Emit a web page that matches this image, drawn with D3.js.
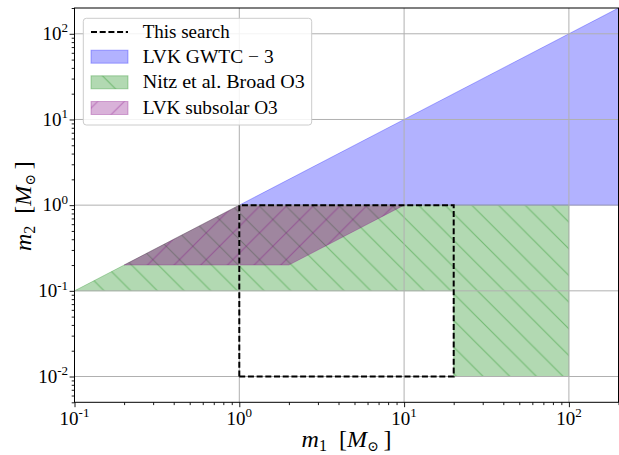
<!DOCTYPE html>
<html><head><meta charset="utf-8">
<script src="https://cdn.jsdelivr.net/npm/d3@7"></script>
<style>
body{margin:0;background:#fff}
svg{display:block}
text{font-family:"Liberation Serif","DejaVu Serif",serif;fill:#000}
</style>
</head><body>
<svg id="c" width="619" height="455"></svg>
<script>
// ---- data ----
const xDomain = [0.1, 200];
const yDomain = [0.005, 200];
const xTickValues = [0.1, 1, 10, 100];
const xTickExps = ["-1", "0", "1", "2"];
const yTickValues = [0.01, 0.1, 1, 10, 100];
const yTickExps = ["-2", "-1", "0", "1", "2"];
// polygons as [m1, m2]
const gwtc3 = [[1, 1], [200, 200], [200, 1]];
const nitzBroad = [[0.1, 0.1], [1, 1], [100, 1], [100, 0.01], [20, 0.01], [20, 0.1]];
const subsolar = [[0.2, 0.2], [1, 1], [10, 1], [2, 0.2]];
const thisSearch = [[1, 0.01], [1, 1], [20, 1], [20, 0.01], [1, 0.01]];
const legendLabels = ["This search", "LVK GWTC \u2212 3", "Nitz et al. Broad O3", "LVK subsolar O3"];

// ---- layout ----
const L = 74.5, R = 618.5, T = 8, B = 402.3;
const svg = d3.select("#c");
const x = d3.scaleLog().domain(xDomain).range([L, R]);
const y = d3.scaleLog().domain(yDomain).range([B, T]);

const defs = svg.append("defs");
defs.append("clipPath").attr("id", "clip").append("rect")
  .attr("x", L).attr("y", T).attr("width", R - L).attr("height", B - T);

const S = 26.67;
function hatch(id, dir, color, op, offset) {
  const p = defs.append("pattern").attr("id", id).attr("patternUnits", "userSpaceOnUse")
    .attr("width", S).attr("height", S).attr("x", offset).attr("y", 0);
  const d = dir === "back"
    ? `M-2,${S - 2} l4,4 M0,0 L${S},${S} M${S - 2},-2 l4,4`
    : `M-2,2 l4,-4 M0,${S} L${S},0 M${S - 2},${S + 2} l4,-4`;
  p.append("path").attr("d", d).attr("stroke", color).attr("stroke-opacity", op)
    .attr("stroke-width", 1.1).attr("fill", "none");
}
hatch("hGreen", "back", "#008000", 0.35, 0);
hatch("hPurple", "fwd", "#800080", 0.35, 12.4);

const line = d3.line().x(d => x(d[0])).y(d => y(d[1]));
const poly = pts => line(pts) + "Z";

const plot = svg.append("g").attr("clip-path", "url(#clip)");

// blue
plot.append("path").attr("d", poly(gwtc3)).attr("fill", "#0000ff").attr("fill-opacity", 0.3)
  .attr("stroke", "#0000ff").attr("stroke-opacity", 0.3).attr("stroke-width", 1);
// green
plot.append("path").attr("d", poly(nitzBroad)).attr("fill", "#008000").attr("fill-opacity", 0.3)
  .attr("stroke", "#008000").attr("stroke-opacity", 0.25).attr("stroke-width", 1);
plot.append("path").attr("d", poly(nitzBroad)).attr("fill", "url(#hGreen)");
// purple
plot.append("path").attr("d", poly(subsolar)).attr("fill", "#800080").attr("fill-opacity", 0.38)
  .attr("stroke", "#800080").attr("stroke-opacity", 0.25).attr("stroke-width", 1);
plot.append("path").attr("d", poly(subsolar)).attr("fill", "url(#hPurple)");

// grid
const grid = svg.append("g");
grid.selectAll("line.gx").data(xTickValues).join("line")
  .attr("x1", d => x(d)).attr("x2", d => x(d)).attr("y1", T).attr("y2", B)
  .attr("stroke", "#b0b0b0").attr("stroke-width", 1);
grid.selectAll("line.gy").data(yTickValues).join("line")
  .attr("y1", d => y(d)).attr("y2", d => y(d)).attr("x1", L).attr("x2", R)
  .attr("stroke", "#b0b0b0").attr("stroke-width", 1);

// this search (above grid)
svg.append("g").attr("clip-path", "url(#clip)").append("path")
  .attr("d", line(thisSearch)).attr("fill", "none")
  .attr("stroke", "#000000").attr("stroke-opacity", 1).attr("stroke-width", 2)
  .attr("stroke-dasharray", "6,2.7");

// axes
const minorX = x.ticks().filter(v => xTickValues.indexOf(v) < 0);
const minorY = y.ticks().filter(v => yTickValues.indexOf(v) < 0);
function styleAxis(g) {
  g.select(".domain").remove();
  g.selectAll(".tick line").attr("stroke", "#000").attr("stroke-width", 0.9);
  g.selectAll(".tick text").remove();
}
svg.append("g").attr("transform", `translate(0,${B})`)
  .call(d3.axisBottom(x).tickValues(minorX).tickSize(2.8)).call(styleAxis);
svg.append("g").attr("transform", `translate(0,${B})`)
  .call(d3.axisBottom(x).tickValues(xTickValues).tickSize(4.9)).call(styleAxis);
svg.append("g").attr("transform", `translate(${L},0)`)
  .call(d3.axisLeft(y).tickValues(minorY).tickSize(2.8)).call(styleAxis);
svg.append("g").attr("transform", `translate(${L},0)`)
  .call(d3.axisLeft(y).tickValues(yTickValues).tickSize(4.9)).call(styleAxis);

// frame
svg.append("rect").attr("x", L).attr("y", T).attr("width", R - L).attr("height", B - T)
  .attr("fill", "none").attr("stroke", "#000").attr("stroke-width", 1);

// tick labels
const FS = 19, SS = 13;
xTickValues.forEach((v, i) => {
  const t = svg.append("text").attr("x", x(v)).attr("y", 424.5).attr("text-anchor", "middle")
    .style("font-size", FS + "px");
  t.append("tspan").text("10");
  t.append("tspan").attr("dy", -7.5).style("font-size", SS + "px").text(xTickExps[i]);
});
yTickValues.forEach((v, i) => {
  const t = svg.append("text").attr("x", 68).attr("y", y(v) + 6.2).attr("text-anchor", "end")
    .style("font-size", FS + "px");
  t.append("tspan").text("10");
  t.append("tspan").attr("dy", -7.5).style("font-size", SS + "px").text(yTickExps[i]);
});

// axis labels
function axisLabel(g, sub) {
  g.append("tspan").style("font-style", "italic").text("m");
  g.append("tspan").attr("dy", 4).style("font-size", "16px").text(sub);
  g.append("tspan").attr("dy", -4).text("\u2002[");
  g.append("tspan").style("font-style", "italic").text("M");
  g.append("tspan").attr("dy", 4).style("font-size", "14px").text("\u2299");
  g.append("tspan").attr("dy", -4).text("\u2009]");
}
axisLabel(svg.append("text").attr("x", (L + R) / 2).attr("y", 447).attr("text-anchor", "middle")
  .style("font-size", "24px"), "1");
axisLabel(svg.append("text").attr("transform", `translate(31,${(T + B) / 2 + 1}) rotate(-90)`)
  .attr("text-anchor", "middle").style("font-size", "24px"), "2");

// legend
const lg = svg.append("g");
lg.append("rect").attr("x", 83.3).attr("y", 18.3).attr("width", 228.4).attr("height", 106.7)
  .attr("rx", 3).attr("fill", "#fff").attr("fill-opacity", 0.85)
  .attr("stroke", "#cccccc").attr("stroke-width", 1);
const rowsY = [32, 56.7, 82.3, 108];
lg.append("line").attr("x1", 91).attr("x2", 128).attr("y1", rowsY[0]).attr("y2", rowsY[0])
  .attr("stroke", "#000").attr("stroke-width", 2).attr("stroke-dasharray", "6,2.7");
const sw = [null, ["#0000ff", null], ["#008000", "hGreen"], ["#800080", "hPurple"]];
for (let i = 1; i < 4; i++) {
  lg.append("rect").attr("x", 91).attr("y", rowsY[i] - 6.5).attr("width", 37).attr("height", 13)
    .attr("fill", sw[i][0]).attr("fill-opacity", 0.3)
    .attr("stroke", sw[i][0]).attr("stroke-opacity", 0.3).attr("stroke-width", 1);
  if (sw[i][1]) lg.append("rect").attr("x", 91).attr("y", rowsY[i] - 6.5).attr("width", 37).attr("height", 13)
    .attr("fill", `url(#${sw[i][1]})`);
}
const legendWidths = [87, 131, 162, 135];
legendLabels.forEach((s, i) => {
  lg.append("text").attr("x", 142.7).attr("y", rowsY[i] + 6).style("font-size", "18.5px")
    .attr("textLength", legendWidths[i]).attr("lengthAdjust", "spacingAndGlyphs").text(s);
});
</script>
</body></html>
